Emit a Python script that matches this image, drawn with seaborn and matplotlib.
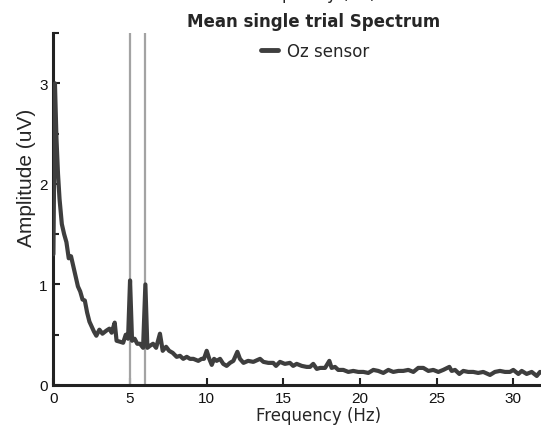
import matplotlib
matplotlib.use("Agg")
import matplotlib.pyplot as plt
import seaborn as sns
from matplotlib.ticker import MultipleLocator

freqs = [0.0, 0.1, 0.2, 0.3, 0.4, 0.55, 0.7, 0.85, 1.0, 1.15, 1.3, 1.45, 1.6, 1.75,
         1.9, 2.05, 2.2, 2.35, 2.5, 2.65, 2.8, 3.0, 3.2, 3.45, 3.65, 3.8, 4.0, 4.12,
         4.35, 4.55, 4.72, 4.87, 5.0, 5.13, 5.3, 5.47, 5.65, 5.85, 6.0, 6.13, 6.3,
         6.5, 6.7, 6.95, 7.13, 7.35, 7.55, 7.78, 8.04, 8.26, 8.47, 8.7, 8.91, 9.13,
         9.45, 9.67, 9.82, 10.0, 10.17, 10.33, 10.48, 10.65, 10.87, 11.08, 11.3,
         11.52, 11.74, 12.0, 12.17, 12.4, 12.7, 13.04, 13.48, 13.7, 14.02, 14.34,
         14.52, 14.78, 15.1, 15.43, 15.64, 15.87, 16.2, 16.52, 16.74, 16.95, 17.18,
         17.4, 17.72, 18.0, 18.15, 18.37, 18.58, 18.91, 19.24, 19.56, 19.89, 20.22,
         20.54, 20.87, 21.19, 21.52, 21.85, 22.17, 22.5, 22.82, 23.15, 23.48, 23.8,
         24.13, 24.46, 24.78, 25.11, 25.43, 25.83, 25.98, 26.2, 26.48, 26.74, 27.06,
         27.39, 27.71, 28.04, 28.48, 28.8, 29.13, 29.46, 29.78, 30.0, 30.33, 30.55,
         30.87, 31.2, 31.53, 31.74, 32.0]
amps = [1.3, 3.0, 2.45, 2.1, 1.85, 1.6, 1.5, 1.42, 1.26, 1.28, 1.18, 1.08, 0.98, 0.93,
        0.85, 0.84, 0.72, 0.63, 0.58, 0.53, 0.49, 0.55, 0.51, 0.54, 0.56, 0.52, 0.62, 0.44,
        0.43, 0.42, 0.50, 0.46, 1.04, 0.44, 0.46, 0.41, 0.41, 0.37, 1.0, 0.37, 0.39,
        0.41, 0.37, 0.51, 0.34, 0.38, 0.34, 0.32, 0.28, 0.29, 0.26, 0.28, 0.26, 0.26,
        0.24, 0.26, 0.26, 0.34, 0.26, 0.20, 0.26, 0.24, 0.26, 0.21, 0.19,
        0.22, 0.24, 0.33, 0.26, 0.22, 0.24, 0.23, 0.26, 0.23, 0.22, 0.22,
        0.19, 0.23, 0.21, 0.22, 0.19, 0.21, 0.19, 0.18, 0.18, 0.21, 0.16,
        0.17, 0.17, 0.24, 0.17, 0.18, 0.15, 0.15, 0.13, 0.14, 0.13, 0.13,
        0.12, 0.15, 0.14, 0.12, 0.15, 0.13, 0.14, 0.14, 0.15, 0.13, 0.17,
        0.17, 0.14, 0.15, 0.13, 0.15, 0.18, 0.14, 0.15, 0.11, 0.14, 0.13,
        0.13, 0.12, 0.13, 0.10, 0.13, 0.14, 0.13, 0.13, 0.15, 0.11, 0.14,
        0.11, 0.13, 0.09, 0.13, 0.12]
stim_freqs = [5, 6]
xticks = [0, 5, 10, 15, 20, 25, 30]
yticks = [0, 1, 2, 3]

sns.set_style("ticks")
plt.rcParams['font.family'] = ['DejaVu Sans']

W, H = 541, 427
fig = plt.figure(figsize=(W / 100, H / 100), dpi=100)
left, right, bottom, top = 53.4, 541, 386, 34
ax = fig.add_axes([left / W, 1 - bottom / H, (right - left) / W, (bottom - top) / H])

for f in stim_freqs:
    ax.axvline(f, color="#a3a3a3", lw=1.6, zorder=1)

sns.lineplot(x=freqs, y=amps, ax=ax, color="#3e3e3e", lw=3.0, label="Oz sensor",
             zorder=3)

ax.set_xlim(0, (right - left) / 15.33)
ax.set_ylim(0, 3.5)
ax.set_xticks(xticks)
ax.set_yticks(yticks)
ax.yaxis.set_minor_locator(MultipleLocator(0.5))
ax.tick_params(axis='x', which='major', direction='in', length=5, width=1.5,
               color='#222222', pad=4.5, labelsize=11,
               labelfontfamily='Liberation Sans', labelcolor='#111111')
ax.tick_params(axis='y', which='major', direction='in', length=5, width=1.5,
               color='#222222', pad=4, labelsize=11,
               labelfontfamily='Liberation Sans', labelcolor='#111111')
ax.tick_params(axis='y', which='minor', direction='in', length=4, width=1.5, color='#222222')
ax.tick_params(axis='x', which='minor', length=0)

for s in ['top', 'right']:
    ax.spines[s].set_visible(False)
for s in ['left', 'bottom']:
    ax.spines[s].set_linewidth(2.2)
    ax.spines[s].set_color('#222222')

ax.set_xlabel("")
fig.text(319 / W, 1 - 416 / H, "Frequency (Hz)", ha='center', va='center', fontsize=12)
ax.set_ylabel("Amplitude (uV)", fontsize=15, family=['Liberation Sans'])
ax.yaxis.set_label_coords(-(left - 36) / (right - left), (bottom - 178) / (bottom - top))

fig.text(314 / W, 1 - 22 / H, "Mean single trial Spectrum", ha='center', va='center',
         fontsize=12, fontweight='bold')
fig.text(314 / W, 1 + 1.5 / H, "Frequency (Hz)", ha='center', va='baseline', fontsize=12)

leg = ax.legend(loc='center', bbox_to_anchor=(315 / W, 1 - 52 / H),
                bbox_transform=fig.transFigure, frameon=False, fontsize=12,
                handlelength=1.0, handletextpad=0.55)
for h in leg.get_lines():
    h.set_linewidth(3.5)

fig.savefig("out.png", dpi=100)
